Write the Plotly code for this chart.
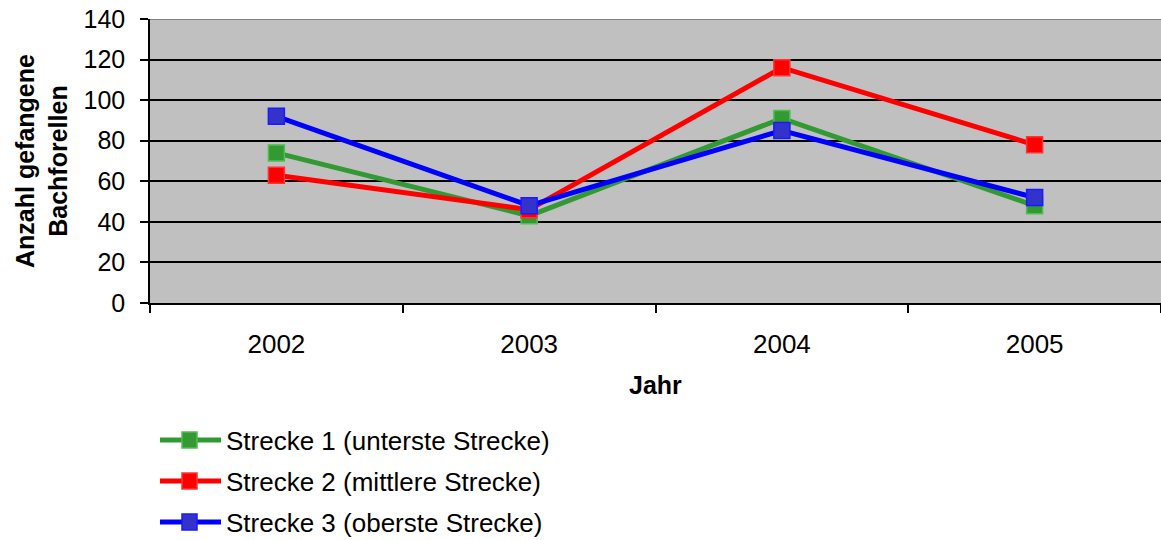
import plotly.graph_objects as go

# Fangzahlen je Strecke und Jahr
jahre = ["2002", "2003", "2004", "2005"]
strecke_1 = [74, 43, 91, 48]
strecke_2 = [63, 46, 116, 78]
strecke_3 = [92, 48, 85, 52]
namen = [
    "Strecke 1 (unterste Strecke)",
    "Strecke 2 (mittlere Strecke)",
    "Strecke 3 (oberste Strecke)",
]
y_ticks = [0, 20, 40, 60, 80, 100, 120, 140]

linien_farben = ["#339933", "#ff0000", "#0000ff"]
marker_fuellung = ["#339933", "#ff0000", "#3333cc"]
marker_rand = ["#4fbf4f", "#ff3333", "#1a1aff"]

FONT = "Liberation Sans, Arial, sans-serif"
FS = 25

# Zeichenfläche in Pixeln
L, T, W, H = 150, 19, 1011, 284


def px_x(x):
    return (x - L) / W


def px_y(y):
    return 1 - (y - T) / H


fig = go.Figure()
for werte, name, lc, mf, mr in zip(
    [strecke_1, strecke_2, strecke_3], namen, linien_farben, marker_fuellung, marker_rand
):
    fig.add_trace(
        go.Scatter(
            x=jahre,
            y=werte,
            name=name,
            mode="lines+markers",
            line=dict(color=lc, width=5),
            marker=dict(symbol="square", size=16, color=mf, line=dict(color=mr, width=1.5)),
            showlegend=False,
            cliponaxis=False,
        )
    )

# Legende als Linienstück mit Marker und Text
leg_y0 = 440
leg_dy = 41
for i, (name, lc, mf, mr) in enumerate(zip(namen, linien_farben, marker_fuellung, marker_rand)):
    yc = leg_y0 + i * leg_dy
    fig.add_shape(type="line", xref="paper", yref="paper",
                  x0=px_x(160), x1=px_x(221), y0=px_y(yc), y1=px_y(yc),
                  line=dict(color=lc, width=5), layer="above")
    fig.add_shape(type="rect", xref="paper", yref="paper",
                  x0=px_x(182), x1=px_x(197), y0=px_y(yc + 8), y1=px_y(yc - 8),
                  fillcolor=mf, line=dict(color=mr, width=1.5), layer="above")
    fig.add_annotation(text=name, xref="paper", yref="paper",
                       x=px_x(224), y=px_y(yc + 1), xanchor="left", yanchor="middle",
                       showarrow=False, font=dict(family=FONT, size=FS + 1, color="black"))

# Achsentitel
fig.add_annotation(text="<b>Anzahl gefangene<br>Bachforellen</b>", xref="paper", yref="paper",
                   x=px_x(41), y=px_y(161), xanchor="center", yanchor="middle",
                   textangle=-90, showarrow=False,
                   font=dict(family=FONT, size=FS, color="black"))
fig.add_annotation(text="<b>Jahr</b>", xref="paper", yref="paper",
                   x=0.5, y=px_y(385), xanchor="center", yanchor="middle",
                   showarrow=False, font=dict(family=FONT, size=FS, color="black"))

# Obere Begrenzung der Zeichenfläche
fig.add_shape(type="line", xref="paper", yref="y", x0=0, x1=1, y0=140, y1=140,
              line=dict(color="#808080", width=2))

fig.update_layout(
    width=1161,
    height=540,
    margin=dict(l=L, r=1161 - L - W, t=T, b=540 - T - H),
    paper_bgcolor="white",
    plot_bgcolor="#c0c0c0",
    font=dict(family=FONT, size=FS, color="black"),
    xaxis=dict(
        type="category",
        range=[-0.5, 3.5],
        tickson="boundaries",
        ticks="outside",
        ticklen=8,
        tickcolor="black",
        tickwidth=1.5,
        showgrid=False,
        showline=True,
        linecolor="black",
        linewidth=1.5,
        ticklabelstandoff=17,
        tickfont=dict(family=FONT, size=FS + 1),
    ),
    yaxis=dict(
        range=[0, 140],
        tickvals=y_ticks,
        ticks="outside",
        ticklen=8,
        tickcolor="black",
        tickwidth=1.5,
        showgrid=True,
        gridcolor="black",
        gridwidth=1.5,
        zeroline=False,
        showline=True,
        linecolor="black",
        linewidth=1.5,
        ticklabelstandoff=10,
        tickfont=dict(family=FONT, size=FS),
    ),
)

fig.write_html("out.html")
